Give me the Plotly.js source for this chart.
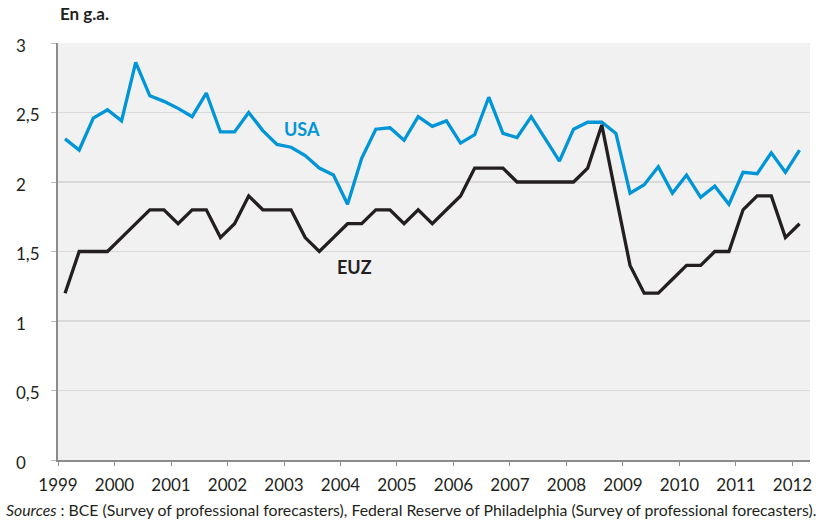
<!DOCTYPE html>
<html>
<head>
<meta charset="utf-8">
<script src="https://cdn.plot.ly/plotly-3.0.1.min.js"></script>
<style>html,body{margin:0;padding:0;background:#fff;}#chart{width:824px;height:521px;}</style>
</head>
<body>
<div id="chart"></div>
<script>
// Quarterly data, 1999 Q1 to 2012 Q1
const startYear = 1999;
const usa = [2.31, 2.23, 2.46, 2.52, 2.44, 2.86, 2.62, 2.58, 2.53, 2.47, 2.64, 2.36, 2.36, 2.50, 2.37, 2.27, 2.25,
             2.19, 2.10, 2.05, 1.84, 2.17, 2.38, 2.39, 2.30, 2.47, 2.40, 2.44, 2.28, 2.34, 2.61, 2.35, 2.32, 2.47, 2.31,
             2.15, 2.38, 2.43, 2.43, 2.35, 1.92, 1.98, 2.11, 1.92, 2.05, 1.89, 1.97, 1.84, 2.07, 2.06, 2.21, 2.07, 2.23];
const euz = [1.2, 1.5, 1.5, 1.5, 1.6, 1.7, 1.8, 1.8, 1.7, 1.8, 1.8, 1.6, 1.7, 1.9, 1.8, 1.8, 1.8,
             1.6, 1.5, 1.6, 1.7, 1.7, 1.8, 1.8, 1.7, 1.8, 1.7, 1.8, 1.9, 2.1, 2.1, 2.1, 2.0, 2.0, 2.0,
             2.0, 2.0, 2.1, 2.41, 1.9, 1.4, 1.2, 1.2, 1.3, 1.4, 1.4, 1.5, 1.5, 1.8, 1.9, 1.9, 1.6, 1.7];
const yearTicks = [1999, 2000, 2001, 2002, 2003, 2004, 2005, 2006, 2007, 2008, 2009, 2010, 2011, 2012];
const yTickVals = [0, 0.5, 1, 1.5, 2, 2.5, 3];
const yTickText = ['0', '0,5', '1', '1,5', '2', '2,5', '3'];

const quarterX = usa.map((_, i) => startYear + (i + 0.5) / 4);

const FONT = 'Lato, "Open Sans", sans-serif';
const BLUE = '#0095d6';
const DARK = '#231f20';

const traces = [
  {x: quarterX, y: usa, type: 'scatter', mode: 'lines', name: 'USA',
   line: {color: BLUE, width: 3.3}, hoverinfo: 'skip'},
  {x: quarterX, y: euz, type: 'scatter', mode: 'lines', name: 'EUZ',
   line: {color: DARK, width: 3.3}, hoverinfo: 'skip'}
];

const annotations = yTickVals.map((v, i) => ({
  xref: 'paper', yref: 'y', x: -0.0585, y: v, xanchor: 'left', yanchor: 'middle',
  text: yTickText[i], showarrow: false, yshift: -2,
  font: {family: FONT, size: 17, color: DARK}
}));
annotations.push(
  {xref: 'paper', yref: 'paper', x: 0, y: 1, xanchor: 'left', yanchor: 'bottom', yshift: 17,
   text: '<b>En g.a.</b>', showarrow: false, font: {family: FONT, size: 17, color: DARK}},
  {xref: 'x', yref: 'y', x: 2003.31, y: 2.38, xanchor: 'center', yanchor: 'middle',
   text: '<b>USA</b>', showarrow: false, font: {family: FONT, size: 18, color: BLUE}},
  {xref: 'x', yref: 'y', x: 2004.25, y: 1.385, xanchor: 'center', yanchor: 'middle',
   text: '<b>EUZ</b>', showarrow: false, font: {family: FONT, size: 18, color: DARK}},
  {xref: 'paper', yref: 'paper', x: -0.0715, y: 0, xanchor: 'left', yanchor: 'top', yshift: -38,
   text: '<i>Sources</i> : BCE (Survey of professional forecasters), Federal Reserve of Philadelphia (Survey of professional forecasters).',
   showarrow: false, font: {family: FONT, size: 15.8, color: DARK}}
);

const layout = {
  width: 824, height: 521,
  margin: {l: 58, r: 14, t: 43, b: 61},
  paper_bgcolor: '#ffffff',
  plot_bgcolor: '#f1f1f1',
  showlegend: false,
  xaxis: {
    range: [1999, 2012.31], tickmode: 'array', tickvals: yearTicks,
    ticktext: yearTicks.map(String),
    showgrid: false, zeroline: false,
    showline: true, linecolor: '#8c8c8c', linewidth: 2,
    ticks: 'outside', ticklen: 4, tickwidth: 1, tickcolor: '#8c8c8c',
    ticklabelstandoff: 5,
    tickfont: {family: FONT, size: 17, color: DARK}
  },
  yaxis: {
    range: [0, 3], tickmode: 'array', tickvals: yTickVals,
    showticklabels: false,
    showgrid: true, gridcolor: '#d9d9d9', gridwidth: 1.5, zeroline: false,
    showline: true, linecolor: '#8c8c8c', linewidth: 2,
    ticks: 'outside', ticklen: 5, tickwidth: 1, tickcolor: '#bdbdbd'
  },
  annotations: annotations
};

Plotly.newPlot('chart', traces, layout, {staticPlot: true, displayModeBar: false});
</script>
</body>
</html>
